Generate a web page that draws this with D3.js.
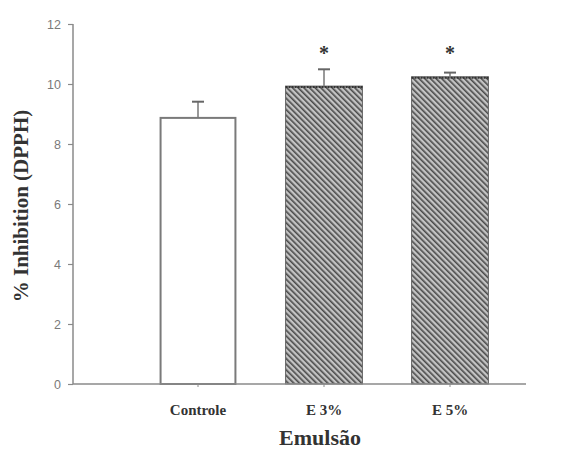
<!DOCTYPE html>
<html><head><meta charset="utf-8">
<script src="https://cdn.jsdelivr.net/npm/d3@7"></script>
<style>body{margin:0;background:#fff}</style>
</head><body>
<svg id="c" width="566" height="450"></svg>
<script>
const categories = ["Controle", "E 3%", "E 5%"];
const values = [8.87, 9.93, 10.24];
const errors = [0.54, 0.56, 0.14];
const significant = [false, true, true];
const yTicks = [0, 2, 4, 6, 8, 10, 12];

const svg = d3.select("#c");
const defs = svg.append("defs");
const pat = defs.append("pattern").attr("id","hatch").attr("patternUnits","userSpaceOnUse")
  .attr("width",4).attr("height",4).attr("patternTransform","rotate(-45)");
pat.append("rect").attr("width",4).attr("height",4).attr("fill","#c4c4c4");
pat.append("rect").attr("width",1.6).attr("height",4).attr("fill","#4a4a4a");

const y = d3.scaleLinear().domain([0,12]).range([384,24]);
const x = d3.scaleBand().domain(categories).range([135,513]).paddingInner(0.39).paddingOuter(0.195);
const axisColor = "#8a8a8a";
const serif = "Liberation Serif, Times New Roman, serif";

// bars
categories.forEach((c,i)=>{
  const x0 = x(c), w = x.bandwidth();
  if(i===0){
    svg.append("rect").attr("x",x0+1).attr("y",y(values[i])).attr("width",w-2).attr("height",y(0)-y(values[i]))
      .attr("fill","#fff").attr("stroke","#7a7a7a").attr("stroke-width",2);
  } else {
    svg.append("rect").attr("x",x0).attr("y",y(values[i])).attr("width",w).attr("height",y(0)-y(values[i]))
      .attr("fill","url(#hatch)").attr("stroke","#666").attr("stroke-width",1);
    svg.append("line").attr("x1",x0).attr("x2",x0+w).attr("y1",y(values[i])+1).attr("y2",y(values[i])+1)
      .attr("stroke","#333").attr("stroke-width",2).attr("stroke-dasharray","2,1");
  }
  const cx = x0 + w/2;
  svg.append("line").attr("x1",cx).attr("x2",cx).attr("y1",y(values[i])).attr("y2",y(values[i]+errors[i]))
    .attr("stroke","#777").attr("stroke-width",1.5);
  svg.append("line").attr("x1",cx-6).attr("x2",cx+6).attr("y1",y(values[i]+errors[i])).attr("y2",y(values[i]+errors[i]))
    .attr("stroke","#666").attr("stroke-width",2);
  if(significant[i]){
    svg.append("text").attr("x",cx).attr("y",60).attr("text-anchor","middle")
      .attr("font-family",serif).attr("font-weight","bold").attr("font-size",20)
      .attr("fill","#333").text("*");
  }
});

// y axis
const ya = svg.append("g").attr("transform","translate(73,0)")
  .call(d3.axisLeft(y).tickValues(yTicks).tickSize(5).tickPadding(7));
ya.select(".domain").attr("stroke",axisColor).attr("stroke-width",1.5).attr("d","M0,24V384");
ya.selectAll(".tick line").attr("stroke",axisColor).attr("stroke-width",1.2);
ya.selectAll(".tick text").attr("fill","#7a7a7a").attr("font-family","Liberation Sans, Arial, sans-serif").attr("font-size",12.5);

// x axis
const xa = svg.append("g").attr("transform","translate(0,384)")
  .call(d3.axisBottom(x).tickSize(3).tickPadding(17));
xa.select(".domain").attr("stroke",axisColor).attr("stroke-width",1.5).attr("d","M73,0H526");
xa.selectAll(".tick line").attr("stroke",axisColor).attr("stroke-width",1);
xa.selectAll(".tick text").attr("fill","#333").attr("font-family",serif)
  .attr("font-weight","bold").attr("font-size",15);

// titles
svg.append("text").attr("transform","translate(28,206) rotate(-90)").attr("text-anchor","middle")
  .attr("font-family",serif).attr("font-weight","bold").attr("font-size",21)
  .attr("fill","#333").text("% Inhibition (DPPH)");
svg.append("text").attr("x",320).attr("y",445).attr("text-anchor","middle")
  .attr("font-family",serif).attr("font-weight","bold").attr("font-size",22)
  .attr("fill","#333").text("Emulsão");
</script>
</body></html>
